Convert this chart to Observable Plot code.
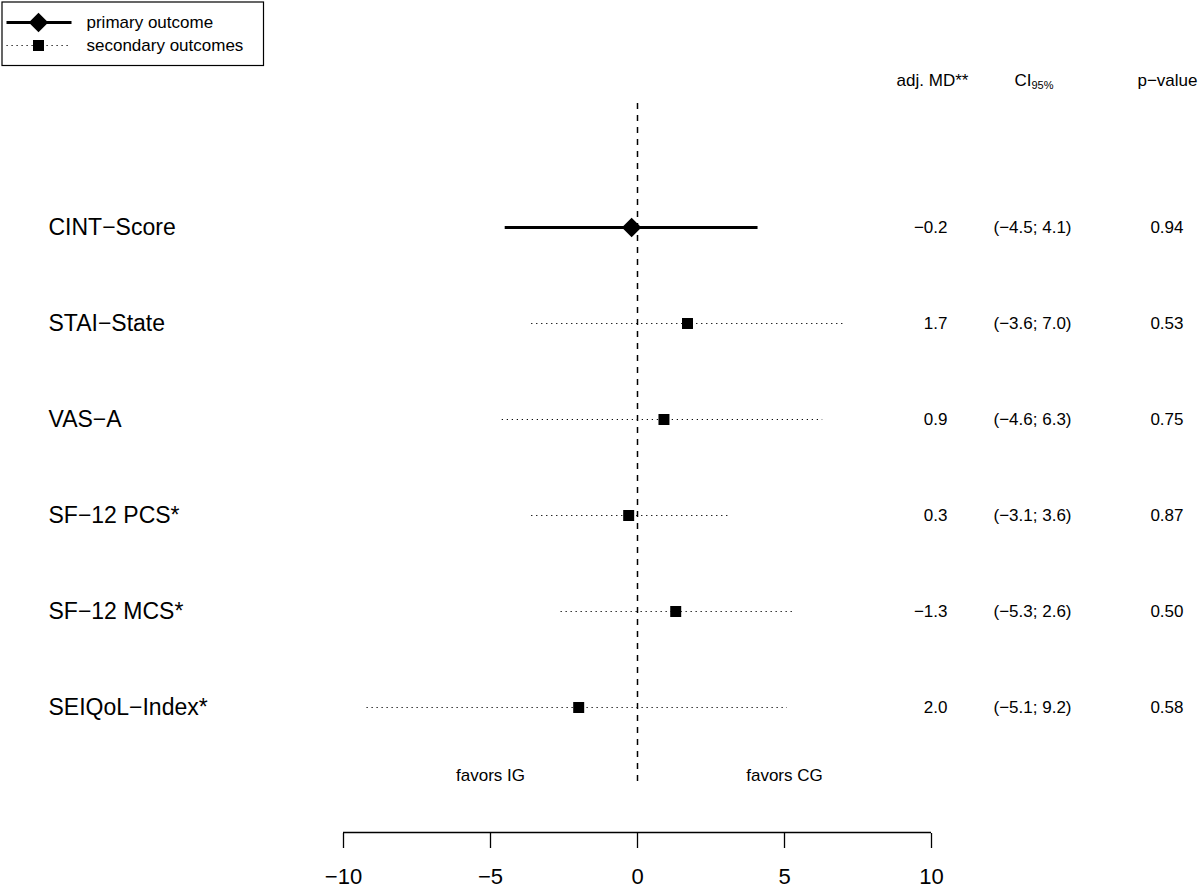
<!DOCTYPE html>
<html>
<head>
<meta charset="utf-8">
<script src="https://cdn.jsdelivr.net/npm/d3@7"></script>
<script src="https://cdn.jsdelivr.net/npm/@observablehq/plot@0.6"></script>
<style>
  html, body { margin: 0; padding: 0; background: #fff; }
  #wrap { position: relative; width: 1200px; height: 888px; }
  #legend { position: absolute; left: 0; top: 0; }
  svg { font-family: "Liberation Sans", Arial, Helvetica, sans-serif; }
</style>
</head>
<body>
<div id="wrap"><div id="chart"></div><div id="legend"></div></div>
<script>
// ---- data ----
const outcomes = ["CINT−Score", "STAI−State", "VAS−A", "SF−12 PCS*", "SF−12 MCS*", "SEIQoL−Index*"];
const primary = [true, false, false, false, false, false];
// plotted (direction-aligned) estimates and 95% CI
const estimate = [-0.2, 1.7, 0.9, -0.3, 1.3, -2.0];
const lower = [-4.5, -3.6, -4.6, -3.6, -2.6, -9.2];
const upper = [4.1, 7.0, 6.3, 3.1, 5.3, 5.1];
// printed columns
const mdLabels = ["−0.2", "1.7", "0.9", "0.3", "−1.3", "2.0"];
const ciLabels = ["(−4.5; 4.1)", "(−3.6; 7.0)", "(−4.6; 6.3)", "(−3.1; 3.6)", "(−5.3; 2.6)", "(−5.1; 9.2)"];
const pLabels = ["0.94", "0.53", "0.75", "0.87", "0.50", "0.58"];
const tickValues = [-10, -5, 0, 5, 10];
const tickLabels = ["−10", "−5", "0", "5", "10"];
const favorLabels = ["favors IG", "favors CG"];
const favorAt = [-5, 5];
const legendLabels = ["primary outcome", "secondary outcomes"];

const rows = outcomes.map((o, i) => ({
  outcome: o, primary: primary[i], est: estimate[i], lo: lower[i], hi: upper[i],
  md: mdLabels[i], ci: ciLabels[i], p: pLabels[i]
}));
const prim = rows.filter(d => d.primary);
const sec = rows.filter(d => !d.primary);
const favors = favorLabels.map((t, i) => ({t, x: favorAt[i]}));
const firstRow = outcomes[0];
const lastRow = outcomes[outcomes.length - 1];
const font = "Liberation Sans, Arial, Helvetica, sans-serif";

const header = (txt, dx, dy, anchor, size) =>
  Plot.text([txt], {text: d => d, y: () => firstRow, frameAnchor: "left", dx, dy, textAnchor: anchor, fontSize: size});

const chart = Plot.plot({
  width: 1200, height: 888,
  marginLeft: 0, marginRight: 0, marginTop: 0, marginBottom: 55,
  style: {fontFamily: font, background: "white", overflow: "visible"},
  x: {domain: [-10, 10], range: [343, 931]},
  y: {type: "point", domain: outcomes, range: [226, 708], padding: 0, axis: null},
  marks: [
    // zero line
    Plot.ruleX([0], {stroke: "#000", strokeWidth: 1.5, strokeDasharray: "6,6", insetTop: 103, insetBottom: 51}),
    // CIs
    Plot.ruleY(prim, {y: "outcome", x1: "lo", x2: "hi", stroke: "#000", strokeWidth: 3}),
    Plot.ruleY(sec, {y: "outcome", x1: "lo", x2: "hi", stroke: "#000", strokeWidth: 1.1, strokeDasharray: "1.2,3.8"}),
    // estimates
    Plot.dot(prim, {x: "est", y: "outcome", symbol: "diamond2", r: 8.8, fill: "#000", stroke: "none"}),
    Plot.dot(sec, {x: "est", y: "outcome", symbol: "square", r: 6.2, fill: "#000", stroke: "none"}),
    // row labels
    Plot.text(rows, {y: "outcome", text: "outcome", frameAnchor: "left", dx: 48, textAnchor: "start", fontSize: 23}),
    // columns
    Plot.text(rows, {y: "outcome", text: "md", frameAnchor: "left", dx: 947, textAnchor: "end", fontSize: 17}),
    Plot.text(rows, {y: "outcome", text: "ci", frameAnchor: "left", dx: 1071, textAnchor: "end", fontSize: 17}),
    Plot.text(rows, {y: "outcome", text: "p", frameAnchor: "left", dx: 1183, textAnchor: "end", fontSize: 17}),
    // column headers
    header("adj. MD**", 932, -147, "middle", 17),
    header("CI", 1014, -147, "start", 17),
    header("95%", 1031, -142, "start", 11),
    header("p−value", 1167, -147, "middle", 17),
    // favors
    Plot.text(favors, {x: "x", y: () => lastRow, text: "t", dy: 68, fontSize: 17}),
    // axis
    Plot.ruleY([lastRow], {y: d => d, x1: -10, x2: 10, dy: 125, stroke: "#000", strokeWidth: 1.3}),
    Plot.axisX({anchor: "bottom", ticks: tickValues, tickFormat: (d) => tickLabels[tickValues.indexOf(d)], tickSize: 15, tickPadding: 20, fontSize: 22, stroke: "#000", strokeWidth: 1.3, fill: "#000", label: null})
  ]
});
document.getElementById("chart").append(chart);

// legend
const legRows = legendLabels.map((t, i) => ({t, i}));
const legend = Plot.plot({
  width: 266, height: 68, margin: 0,
  style: {fontFamily: font, background: "transparent"},
  x: {type: "identity"},
  y: {type: "point", domain: [0, 1], range: [22, 45], padding: 0, axis: null},
  marks: [
    Plot.frame({stroke: "#000", strokeWidth: 1.2, insetLeft: 1.5, insetTop: 1.5, insetRight: 3, insetBottom: 3}),
    Plot.link([legRows[0]], {x1: () => 6, x2: () => 71, y1: "i", y2: "i", stroke: "#000", strokeWidth: 3}),
    Plot.link([legRows[1]], {x1: () => 6, x2: () => 71, y1: "i", y2: "i", stroke: "#000", strokeWidth: 1.1, strokeDasharray: "1.2,3.8"}),
    Plot.dot([legRows[0]], {x: () => 38, y: "i", symbol: "diamond2", r: 8.8, fill: "#000", stroke: "none"}),
    Plot.dot([legRows[1]], {x: () => 38, y: "i", symbol: "square", r: 6.2, fill: "#000", stroke: "none"}),
    Plot.text(legRows, {x: () => 86, y: "i", text: "t", textAnchor: "start", fontSize: 17})
  ]
});
document.getElementById("legend").append(legend);
</script>
</body>
</html>
